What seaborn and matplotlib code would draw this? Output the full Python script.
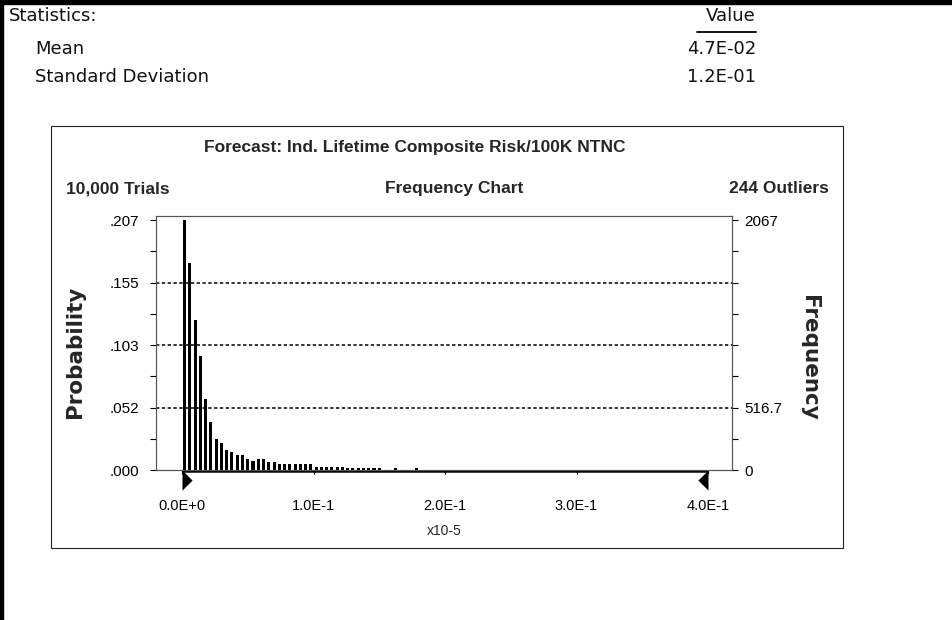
import numpy as np
import seaborn as sns
import matplotlib.pyplot as plt
from matplotlib.patches import Rectangle
from matplotlib.lines import Line2D

# forecast frequency chart, 10,000 trials, bins of 0.004 (x10-5)
trials = 10000
bin_width = 0.004
freq = [2067, 1714, 1240, 943, 590, 397, 258, 226, 167, 151,
        121, 120, 94, 74, 94, 94, 64, 64, 47, 47,
        47, 47, 47, 47, 47, 27, 27, 27, 27, 27,
        27, 14, 14, 14, 14, 14, 14, 14, 0, 0,
        14, 0, 0, 0, 14]
max_freq = 2067
x_ticks = [0.0, 0.1, 0.2, 0.3, 0.4]
x_labels = ["0.0E+0", "1.0E-1", "2.0E-1", "3.0E-1", "4.0E-1"]
prob_labels = [".000", "", ".052", "", ".103", "", ".155", "", ".207"]
freq_labels = ["0", "", "516.7", "", "", "", "", "", "2067"]
stats_names = ["Mean", "Standard Deviation"]
stats_values = ["4.7E-02", "1.2E-01"]

sns.set_theme(style="white")
plt.rcParams["font.family"] = ["Liberation Sans", "DejaVu Sans"]

W, H = 952, 620
fig = plt.figure(figsize=(W / 100, H / 100), dpi=100)


def fx(x):
    return x / W


def fy(y):
    return 1 - y / H


# page borders
fig.patches.append(Rectangle((0, fy(3.5)), 1, 3.5 / H, color="black",
                             transform=fig.transFigure))
fig.patches.append(Rectangle((0, 0), 3 / W, 1, color="black",
                             transform=fig.transFigure))

# statistics table
stat_font = dict(family="DejaVu Sans", fontsize=13, color="#111")
fig.text(fx(9), fy(21), "Statistics:", va="baseline", **stat_font)
fig.text(fx(756), fy(21), "Value", ha="right", va="baseline", **stat_font)
fig.add_artist(Line2D([fx(697), fx(756)], [fy(31.5), fy(31.5)], lw=1.3,
                      color="black", transform=fig.transFigure))
for i, (name, val) in enumerate(zip(stats_names, stats_values)):
    y = 54 + 28 * i
    fig.text(fx(35), fy(y), name, va="baseline", **stat_font)
    fig.text(fx(756), fy(y), val, ha="right", va="baseline", **stat_font)

# chart frame
fig.patches.append(Rectangle((fx(51), fy(548)), (843 - 51) / W, (548 - 126) / H,
                             fill=False, edgecolor="#222", lw=0.8,
                             transform=fig.transFigure))
head = dict(fontsize=12.5, fontweight="bold", va="baseline")
fig.text(fx(415), fy(152), "Forecast: Ind. Lifetime Composite Risk/100K NTNC",
         ha="center", **head)
fig.text(fx(66), fy(193), "10,000 Trials", ha="left", **head)
fig.text(fx(454), fy(193), "Frequency Chart", ha="center", **head)
fig.text(fx(829), fy(193), "244 Outliers", ha="right", **head)

# axis titles
side_font = dict(family="DejaVu Sans", fontsize=15.5, fontweight="bold",
                 ha="center", va="center")
fig.text(fx(75), fy(352), "Probability", rotation=90, **side_font)
fig.text(fx(809), fy(358), "Frequency", rotation=-90, **side_font)

# plot area
ax = fig.add_axes([fx(156), fy(470), (732 - 156) / W, (470 - 215.5) / H])
prob = np.array(freq) / trials
bin_mid = (np.arange(len(freq)) + 0.5) * bin_width
sns.histplot(x=bin_mid, weights=prob, binwidth=bin_width,
             binrange=(0, len(freq) * bin_width), shrink=0.575,
             color="black", alpha=1, linewidth=0, ax=ax, zorder=3)

top_prob = max_freq / trials
y_ticks = np.linspace(0, top_prob, 9)
y_top = top_prob * 254.5 / 250
ax.set_xlim(-26 / 1315, 550 / 1315)
ax.set_ylim(0, y_top)
ax.set_xticks(x_ticks)
ax.set_xticklabels(x_labels)
ax.set_yticks(y_ticks)
ax.set_yticklabels(prob_labels)
ax.set_xlabel("x10-5", fontsize=10, labelpad=8)
ax.set_ylabel("")
ax.tick_params(axis="x", direction="out", length=3, width=0.8, pad=18,
               labelsize=10.5, colors="black", bottom=True)
ax.tick_params(axis="y", direction="out", length=4, width=0.8, pad=8,
               labelsize=11, colors="black", left=True)

for t in y_ticks[2:-1:2]:
    ax.axhline(t, color="black", lw=1.1, ls=(0, (2.2, 1.6)), zorder=1)

for side in ["top", "right", "left", "bottom"]:
    ax.spines[side].set_color("#555")
    ax.spines[side].set_linewidth(0.8)
ax.hlines(-0.0009, 0, 0.4, color="black", lw=1.8, zorder=2, clip_on=False)

# certainty grabbers
left_tri = [(0, 0), (0, -2), (1, -1), (0, 0)]
right_tri = [(0, 0), (0, -2), (-1, -1), (0, 0)]
ax.plot([0], [0], marker=left_tri, ms=29, color="black", mew=0,
        clip_on=False, zorder=4)
ax.plot([0.4], [0], marker=right_tri, ms=29, color="black", mew=0,
        clip_on=False, zorder=4)

ax2 = ax.twinx()
ax2.set_ylim(0, y_top * trials)
ax2.set_yticks(y_ticks * trials)
ax2.set_yticklabels(freq_labels)
ax2.tick_params(axis="y", direction="out", length=4, width=0.8, pad=5,
                labelsize=11, colors="black", right=True)
ax2.grid(False)
for side in ["top", "right", "left", "bottom"]:
    ax2.spines[side].set_color("#555")
    ax2.spines[side].set_linewidth(0.8)

fig.savefig("out.png", dpi=100)
